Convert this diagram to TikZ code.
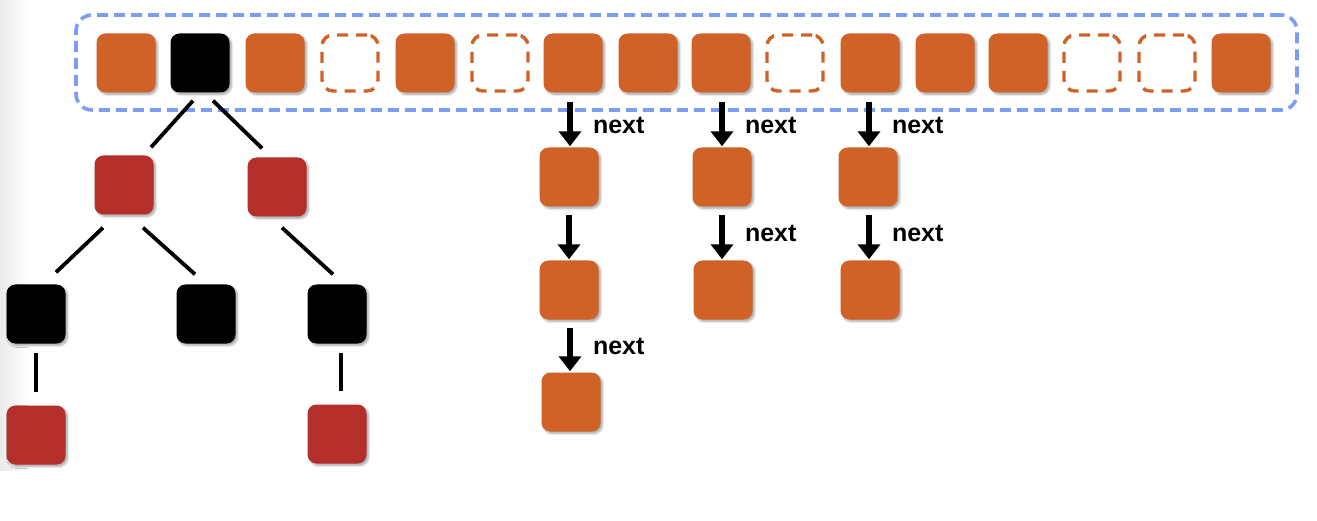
\documentclass[tikz,border=0pt]{standalone}
\usepackage{fontspec}
\setmainfont{Liberation Sans}
\usetikzlibrary{arrows.meta,shadows.blur}
\definecolor{boxorange}{HTML}{D06228}
\definecolor{boxred}{HTML}{B52F2A}
\definecolor{frameblue}{HTML}{7B9DF5}
\tikzset{
  x=1pt,y=-1pt,
  sq/.style={minimum size=59pt,inner sep=0pt,rounded corners=9pt,
    blur shadow={shadow xshift=2pt,shadow yshift=-2pt,shadow blur steps=6,shadow opacity=35}},
  fullbox/.style={sq,fill=boxorange},
  redbox/.style={sq,fill=boxred},
  blackbox/.style={sq,fill=black},
  emptybox/.style={minimum size=56pt,inner sep=0pt,rounded corners=11pt,draw=boxorange,line width=3.4pt,dash pattern=on 11pt off 8pt},
  edge/.style={line width=3.8pt,black},
  nxarrow/.style={line width=6pt,-{Triangle[length=15pt,width=22pt]}},
  lbl/.style={font=\fontsize{25}{28}\selectfont\bfseries,anchor=west,inner sep=2pt}
}
\begin{document}
\begin{tikzpicture}
\useasboundingbox (0,0) rectangle (1317,521);
\shade[left color=black!8,right color=white] (0,0) rectangle (28,470);
% frame
\node[draw=frameblue,line width=3.6pt,dash pattern=on 11pt off 6pt,rounded corners=16pt,
  minimum width=1221pt,minimum height=95pt,inner sep=0pt] (frame) at (686.5,62.5) {};
% top row
\foreach \i/\cx/\t in {1/126/fullbox,2/200/blackbox,3/275/fullbox,4/350/emptybox,5/425/fullbox,6/500/emptybox,7/573/fullbox,8/648/fullbox,9/721/fullbox,10/795/emptybox,11/870/fullbox,12/945/fullbox,13/1018/fullbox,14/1092/emptybox,15/1167/emptybox,16/1241/fullbox}
  \node[\t] (t\i) at (\cx,63) {};
% tree
\node[redbox] (rl) at (124,185) {};
\node[redbox] (rr) at (277,187) {};
\node[blackbox] (bl) at (36,314) {};
\node[blackbox] (bm) at (206,314) {};
\node[blackbox] (br) at (337,314) {};
\node[redbox] (ll) at (36,435) {};
\node[redbox] (lr) at (337,434) {};
\draw[edge] ([shift={(-7,8)}]t2.south) -- ([shift={(27,-8)}]rl.north);
\draw[edge] ([shift={(13,8)}]t2.south) -- ([shift={(-15,-9)}]rr.north);
\draw[edge] ([shift={(-21,13)}]rl.south) -- ([shift={(20,-12)}]bl.north);
\draw[edge] ([shift={(19,13)}]rl.south) -- ([shift={(-11,-10)}]bm.north);
\draw[edge] ([shift={(5,11)}]rr.south) -- ([shift={(-4,-10)}]br.north);
\draw[edge] ([shift={(0,9)}]bl.south) -- ([shift={(0,-13)}]ll.north);
\draw[edge] ([shift={(4,9)}]br.south) -- ([shift={(4,-13)}]lr.north);
% chains
\node[fullbox] (a1) at (569,177) {};
\node[fullbox] (a2) at (569,290) {};
\node[fullbox] (a3) at (571,402) {};
\node[fullbox] (b1) at (722,177) {};
\node[fullbox] (b2) at (723,290) {};
\node[fullbox] (c1) at (868,177) {};
\node[fullbox] (c2) at (870,290) {};
\draw[nxarrow,shorten <=9pt,shorten >=1pt] ([xshift=-3pt]t7.south) -- ([xshift=1pt]a1.north) node[lbl,midway,xshift=18pt,yshift=-5pt] {next};
\draw[nxarrow,shorten <=8pt,shorten >=1pt] (a1.south) -- (a2.north);
\draw[nxarrow,shorten <=8pt,shorten >=1pt] ([xshift=1pt]a2.south) -- ([xshift=-1pt]a3.north) node[lbl,midway,xshift=18pt] {next};
\draw[nxarrow,shorten <=9pt,shorten >=1pt] ([xshift=1pt]t9.south) -- (b1.north) node[lbl,midway,xshift=18pt,yshift=-5pt] {next};
\draw[nxarrow,shorten <=8pt,shorten >=1pt] (b1.south) -- ([xshift=-1pt]b2.north) node[lbl,midway,xshift=18pt] {next};
\draw[nxarrow,shorten <=9pt,shorten >=1pt] ([xshift=-1pt]t11.south) -- ([xshift=1pt]c1.north) node[lbl,midway,xshift=18pt,yshift=-5pt] {next};
\draw[nxarrow,shorten <=8pt,shorten >=1pt] ([xshift=1pt]c1.south) -- ([xshift=-1pt]c2.north) node[lbl,midway,xshift=18pt] {next};
\end{tikzpicture}
\end{document}
